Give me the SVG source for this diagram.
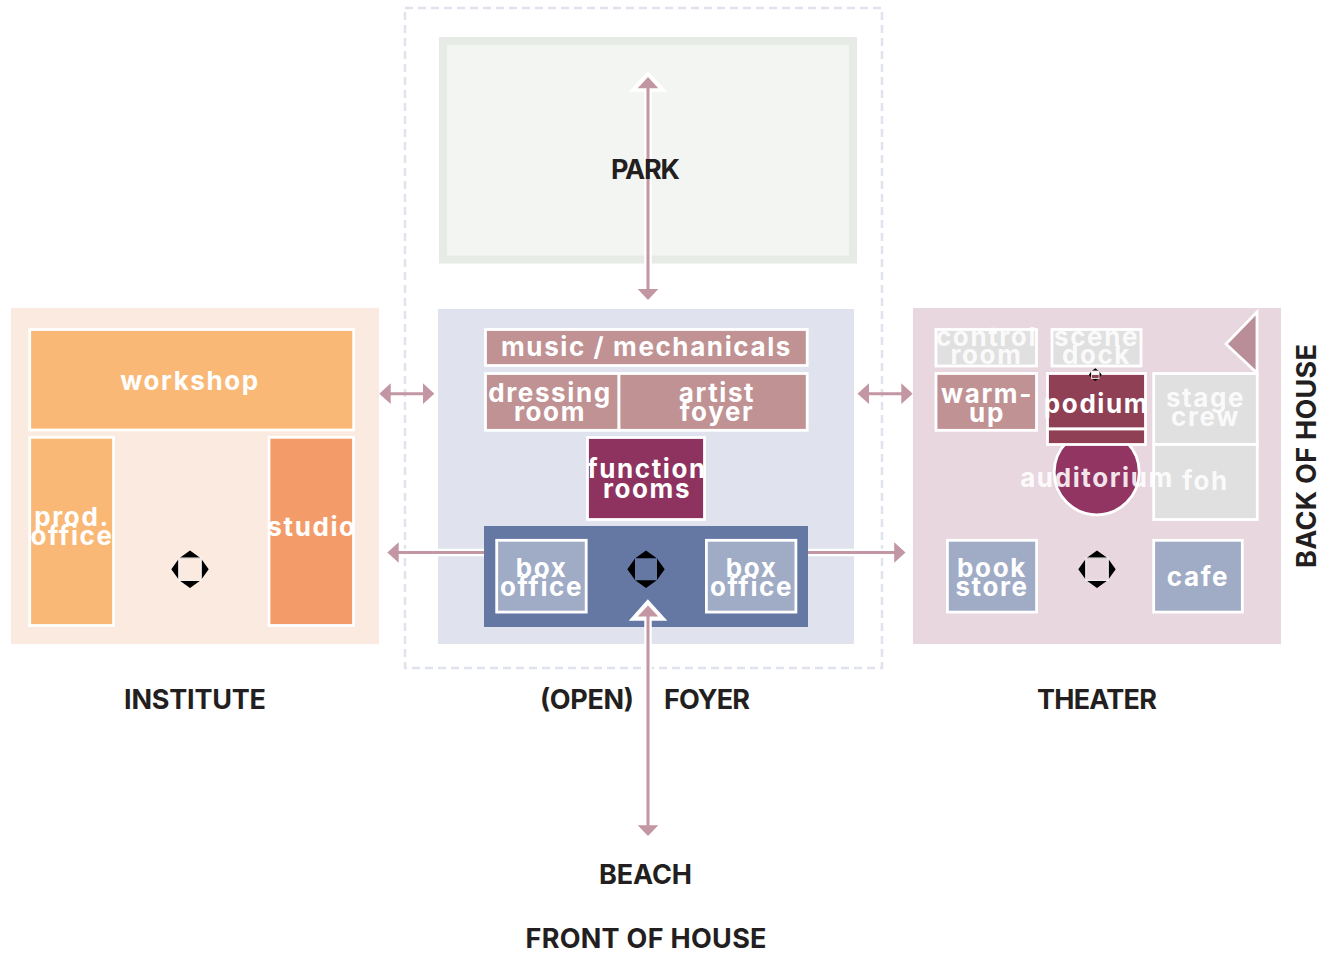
<svg xmlns="http://www.w3.org/2000/svg" width="1321" height="953" viewBox="0 0 1321 953">
<style>
text{font-family:Inter,"Liberation Sans",sans-serif}
.l{font-size:27px;font-weight:700;fill:#231f20;text-anchor:middle}
.t{font-size:26px;font-weight:700;fill:#fff;text-anchor:middle;letter-spacing:1.6px}
.room{stroke:#fff;stroke-width:2.8}
.halo{stroke:#fff;stroke-width:7.5;fill:none}
.line{stroke:#c296a2;stroke-width:3;fill:none}
.head{fill:#c296a2}
.ic{fill:#000}
</style>
<defs>
<g id="icon">
<path class="ic" d="M0-18.7 10.8-11H-10.8ZM0 18.7 10.8 11H-10.8ZM-18.7 0-11-10.8V10.8ZM18.7 0 11-10.8V10.8Z"/>
</g>
</defs>
<rect width="1321" height="953" fill="#fff"/>
<rect id="outline" x="405" y="8" width="477" height="660" fill="none" stroke="#e0e3ed" stroke-width="2.5" stroke-dasharray="8 5"/>
<g id="park"><rect x="443" y="41" width="410" height="218.5" fill="#f3f5f2" stroke="#e6ebe5" stroke-width="8"/></g>
<g id="institute-bg"><rect x="11" y="308" width="368" height="336" fill="#fbeae0"/></g>
<g id="foyer-bg"><rect x="438" y="309" width="416" height="335" fill="#e0e3ed"/></g>
<g id="theater-bg"><rect x="913" y="308" width="368" height="336" fill="#e8d7df"/></g>

<g id="connectors">
<path class="halo" d="M648 90V289M648 621V826M398 552.5H484M808 552.5H895"/>
<path class="line" d="M648 88V290M648 616V826M390 393.7H424M868 393.7H902M398 552.5H484M808 552.5H895"/>
<path class="head" d="M379.3 393.7 390.7 383.3V404ZM434.3 393.7 423 383.3V404ZM857.5 393.7 869 383.3V404ZM912.7 393.7 901.3 383.3V404ZM387.3 552.5 398.7 542.2V562.8ZM905.5 552.5 894.2 542.2V562.8Z"/>
<path class="head" d="M648 300 637.7 289H658.3ZM648 836 637.7 825.3H658.3Z"/>
<path fill="#fff" d="M647.8 71 628.7 91.7H667.3Z"/>
<path class="head" d="M648 77 637.7 88.3H658.3Z"/>
<path class="line" d="M648 88V92"/>
</g>

<g id="workshop"><rect class="room" x="29.7" y="329.5" width="324" height="100.5" fill="#fab876"/><text class="t" x="190" y="390">workshop</text></g>
<g id="prod-office"><rect class="room" x="29.7" y="437.3" width="83.8" height="188.2" fill="#fab876"/><text class="t" x="72" y="526">prod.</text><text class="t" x="72" y="545">office</text></g>
<g id="studio"><rect class="room" x="269" y="437.3" width="84.5" height="188.2" fill="#f49c69"/><text class="t" x="312" y="536">studio</text></g>
<g id="institute-icon"><use href="#icon" x="190" y="569.2"/><rect x="178.7" y="558" width="22.6" height="22.4" fill="none" stroke="#fff" stroke-width="1"/></g>

<g id="music"><rect class="room" x="485.5" y="329.5" width="321.7" height="36" fill="#c09293"/><text class="t" x="646.5" y="356">music / mechanicals</text></g>
<g id="dressing-room"><rect class="room" x="485.5" y="373.5" width="133.5" height="56.8" fill="#c09293"/><text class="t" x="550" y="402">dressing</text><text class="t" x="550" y="421">room</text></g>
<g id="artist-foyer"><rect class="room" x="619" y="373.5" width="188.2" height="56.8" fill="#c09293"/><text class="t" x="717" y="402">artist</text><text class="t" x="717" y="421">foyer</text></g>
<g id="function-rooms"><rect class="room" x="587.5" y="437.5" width="117" height="82" fill="#8e335f"/><text class="t" x="647" y="478">function</text><text class="t" x="647" y="498">rooms</text></g>
<g id="box-office-bar"><rect x="484" y="526" width="324" height="101" fill="#6577a3"/></g>
<g id="box-office-1"><rect class="room" x="496.7" y="540.3" width="89.5" height="71.8" fill="#a0acc6"/><text class="t" x="541.5" y="577">box</text><text class="t" x="541.5" y="596">office</text></g>
<g id="box-office-2"><rect class="room" x="706.4" y="540.3" width="89.5" height="71.8" fill="#a0acc6"/><text class="t" x="751.5" y="577">box</text><text class="t" x="751.5" y="596">office</text></g>
<g id="foyer-icon"><use href="#icon" x="646" y="569.2"/></g>
<g id="foyer-entry"><path class="halo" d="M648 616V627"/><path fill="#fff" d="M647.8 599.3 628.7 620.7H667.3Z"/><path class="head" d="M648 605.5 637.7 616.5H658.3Z"/><path class="line" d="M648 616V627"/></g>

<g id="control-room"><rect class="room" x="936" y="329.5" width="100.5" height="36.5" fill="#e0e0e0"/><text class="t" x="986.5" y="346" fill-opacity=".85">control</text><text class="t" x="986.5" y="364" fill-opacity=".85">room</text></g>
<g id="scene-dock"><rect class="room" x="1052" y="329.5" width="89" height="36.5" fill="#e0e0e0"/><text class="t" x="1096.5" y="346" fill-opacity=".85">scene</text><text class="t" x="1096.5" y="364" fill-opacity=".85">dock</text></g>
<g id="warm-up"><rect class="room" x="936" y="373.5" width="100.5" height="56.8" fill="#c09293"/><text class="t" x="987" y="403">warm-</text><text class="t" x="987" y="422">up</text></g>
<g id="auditorium"><circle class="room" cx="1096.7" cy="472.3" r="42.5" fill="#923563"/></g>
<g id="podium"><rect class="room" x="1047.5" y="373.5" width="98" height="55.5" fill="#8f4055"/><rect class="room" x="1047.5" y="429" width="98" height="15.5" fill="#8f4055"/><text class="t" x="1096.5" y="412.5">podium</text></g>
<g id="stage-crew"><rect class="room" x="1153.7" y="373.5" width="103.6" height="71" fill="#e0e0e0"/><text class="t" x="1205.5" y="407" fill-opacity=".85">stage</text><text class="t" x="1205.5" y="426" fill-opacity=".85">crew</text></g>
<g id="foh"><rect class="room" x="1153.7" y="444.5" width="103.6" height="75" fill="#e0e0e0"/><text class="t" x="1205.5" y="489.5" fill-opacity=".85">foh</text></g>
<g id="auditorium-label"><text class="t" x="1097" y="486.5" fill-opacity=".9">auditorium</text></g>
<g id="loading"><path class="room" d="M1257 312 1226 344 1257 373Z" fill="#ba8e98"/></g>
<g id="book-store"><rect class="room" x="947.4" y="540.3" width="89.2" height="71.8" fill="#a0acc6"/><text class="t" x="992" y="577">book</text><text class="t" x="992" y="596">store</text></g>
<g id="cafe"><rect class="room" x="1153.7" y="540.3" width="88.6" height="71.8" fill="#a0acc6"/><text class="t" x="1198" y="586">cafe</text></g>
<g id="theater-icon"><use href="#icon" x="1097" y="569.2"/><rect x="1085.7" y="558" width="22.6" height="22.4" fill="none" stroke="#fff" stroke-width="1"/></g>
<g id="podium-icon"><use href="#icon" transform="translate(1095.3 374.7) scale(.34)"/><rect x="1091.5" y="371" width="7.6" height="7.4" fill="none" stroke="#fff" stroke-width=".8"/></g>

<g id="labels">
<text class="l" x="645.5" y="179" textLength="69">PARK</text>
<text class="l" x="195" y="709" textLength="142">INSTITUTE</text>
<text class="l" x="587" y="709" textLength="94">(OPEN)</text>
<text class="l" x="707" y="709" textLength="86">FOYER</text>
<text class="l" x="1097" y="709" textLength="120">THEATER</text>
<text class="l" x="645.5" y="884" textLength="93">BEACH</text>
<text class="l" x="646" y="948" textLength="241">FRONT OF HOUSE</text>
<text class="l" transform="translate(1316 456) rotate(-90)" textLength="224">BACK OF HOUSE</text>
</g>
</svg>
